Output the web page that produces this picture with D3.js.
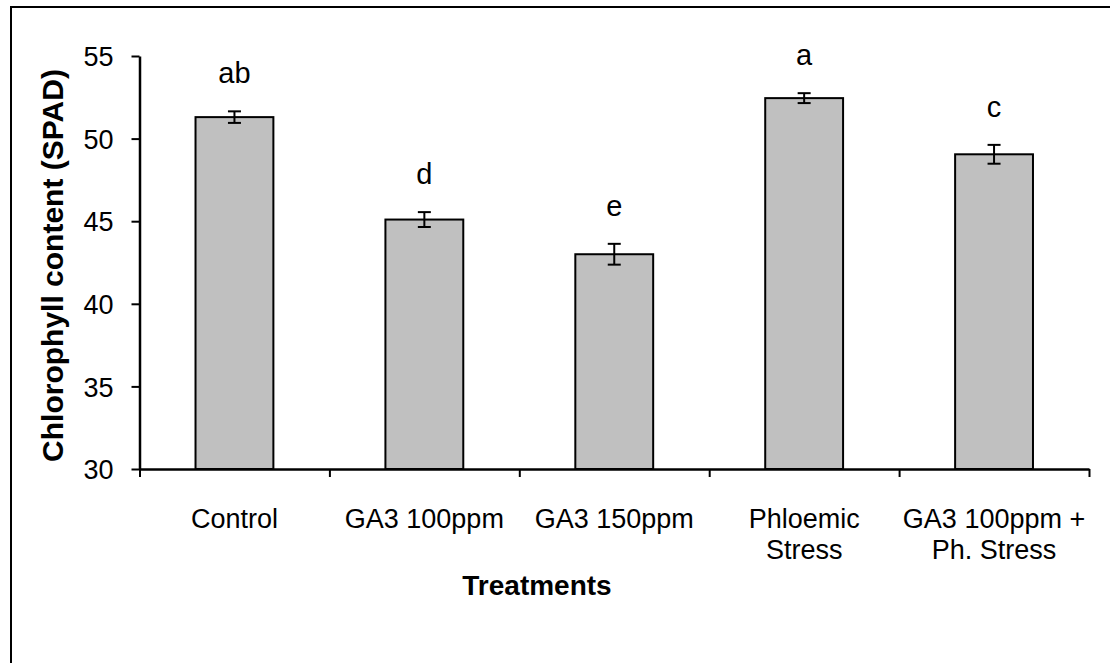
<!DOCTYPE html>
<html>
<head>
<meta charset="utf-8">
<script src="https://d3js.org/d3.v7.min.js"></script>
<style>
  body { margin: 0; background: #fff; }
  text { font-family: "Liberation Sans", Arial, sans-serif; fill: #000; }
</style>
</head>
<body>
<div id="chart"></div>
<script>
// chart values
var categories = ["Control", "GA3 100ppm", "GA3 150ppm", "Phloemic\nStress", "GA3 100ppm +\nPh. Stress"];
var means = [51.3, 45.1, 43.0, 52.45, 49.05];
var errors = [0.35, 0.45, 0.63, 0.3, 0.57];
var letters = ["ab", "d", "e", "a", "c"];
var yTicks = [30, 35, 40, 45, 50, 55];

var width = 1110, height = 663;
var x0 = 139.5, x1 = 1089, yTop = 56, yBottom = 469;

var svg = d3.select("#chart")
  .append("svg")
  .attr("width", width)
  .attr("height", height);

// outer frame (runs off the right and bottom edges)
svg.append("rect")
  .attr("x", 11)
  .attr("y", 7)
  .attr("width", 1300)
  .attr("height", 900)
  .attr("fill", "none")
  .attr("stroke", "#000")
  .attr("stroke-width", 2);

// scales
var xScale = d3.scaleBand()
  .domain(categories)
  .range([x0, x1])
  .paddingInner(0.59)
  .paddingOuter(0.295);

var edgeScale = d3.scaleLinear()
  .domain([0, categories.length])
  .range([x0, x1]);

var yScale = d3.scaleLinear()
  .domain([30, 55])
  .range([yBottom, yTop]);

// bars
svg.selectAll(".bar")
  .data(means)
  .enter()
  .append("rect")
  .attr("class", "bar")
  .attr("x", function(d, i) { return xScale(categories[i]); })
  .attr("y", function(d) { return yScale(d); })
  .attr("width", xScale.bandwidth())
  .attr("height", function(d) { return yScale(30) - yScale(d); })
  .attr("fill", "#c0c0c0")
  .attr("stroke", "#000")
  .attr("stroke-width", 2);

// error bars
var cx = function(i) { return xScale(categories[i]) + xScale.bandwidth() / 2; };
var err = svg.append("g").attr("stroke", "#000").attr("stroke-width", 2);
means.forEach(function(m, i) {
  var top = yScale(m + errors[i]), bot = yScale(m - errors[i]);
  err.append("line").attr("x1", cx(i)).attr("x2", cx(i)).attr("y1", top).attr("y2", bot);
  err.append("line").attr("x1", cx(i) - 6.5).attr("x2", cx(i) + 6.5).attr("y1", top).attr("y2", top);
  err.append("line").attr("x1", cx(i) - 6.5).attr("x2", cx(i) + 6.5).attr("y1", bot).attr("y2", bot);
});

// significance letters
svg.selectAll(".letter")
  .data(letters)
  .enter()
  .append("text")
  .attr("class", "letter")
  .attr("x", function(d, i) { return cx(i); })
  .attr("y", function(d, i) { return yScale(means[i] + errors[i]) - 28; })
  .style("text-anchor", "middle")
  .style("font-size", "29px")
  .text(function(d) { return d; });

// y axis
var yAxis = svg.append("g")
  .attr("transform", "translate(" + x0 + ",0)")
  .call(d3.axisLeft(yScale).tickValues(yTicks).tickSize(8).tickPadding(18).tickSizeOuter(0));
yAxis.select(".domain").attr("stroke-width", 2.5);
yAxis.selectAll(".tick line").attr("stroke-width", 2);
yAxis.selectAll(".tick text")
  .style("font-size", "27px")
  .style("font-family", "'Liberation Sans', Arial, sans-serif")
  .attr("dy", "0.36em");

// x axis with ticks at band edges
var xAxis = svg.append("g")
  .attr("transform", "translate(0," + yBottom + ")")
  .call(d3.axisBottom(edgeScale).ticks(categories.length).tickFormat("").tickSize(8).tickSizeOuter(0));
xAxis.select(".domain").attr("stroke-width", 2.5);
xAxis.selectAll(".tick line").attr("stroke-width", 2);

// category labels
categories.forEach(function(c, i) {
  var t = svg.append("text")
    .attr("x", cx(i))
    .attr("y", 528)
    .style("text-anchor", "middle")
    .style("font-size", "27px");
  c.split("\n").forEach(function(line, j) {
    t.append("tspan")
      .attr("x", cx(i))
      .attr("dy", j === 0 ? 0 : 31)
      .text(line);
  });
});

// axis titles
svg.append("text")
  .attr("x", 537)
  .attr("y", 595)
  .style("text-anchor", "middle")
  .style("font-size", "28px")
  .style("font-weight", "bold")
  .text("Treatments");

svg.append("text")
  .attr("transform", "rotate(-90)")
  .attr("x", -265.5)
  .attr("y", 63)
  .style("text-anchor", "middle")
  .style("font-size", "30px")
  .style("font-weight", "bold")
  .text("Chlorophyll content (SPAD)");
</script>
</body>
</html>
